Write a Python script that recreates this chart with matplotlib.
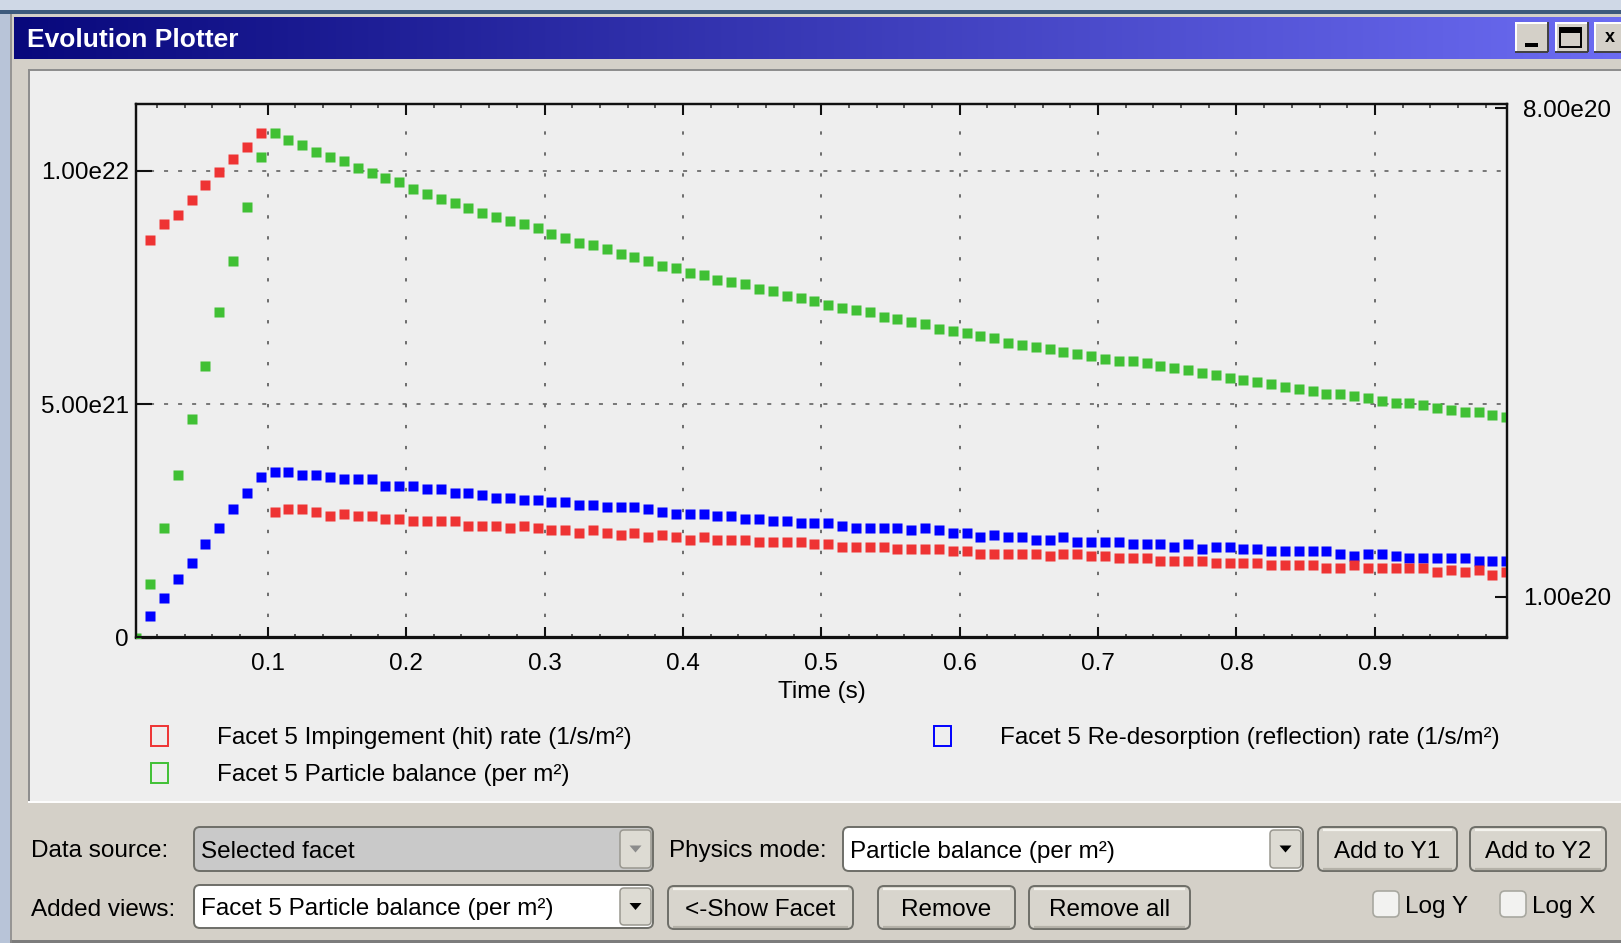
import numpy as np
import matplotlib
matplotlib.use("Agg")
import matplotlib.pyplot as plt
from matplotlib.patches import Rectangle, FancyBboxPatch, Polygon
from matplotlib.ticker import FixedLocator, MultipleLocator, FuncFormatter

plt.rcParams['font.family'] = ['Liberation Sans', 'DejaVu Sans']
plt.rcParams['lines.scale_dashes'] = False

W, H, DPI = 1621, 943, 100
FS = 17.5

# ---------------------------------------------------------------- data
# sampling times (s): one sample every 10 ms, centred in each interval
time_s = np.linspace(0.005, 0.995, 100)

# values in units of 1e21
hit_rate = np.array([
    np.nan,
    8.52, 8.86, 9.06, 9.37, 9.71, 9.97, 10.26, 10.51, 10.81,
    2.70, 2.75, 2.75, 2.70, 2.60, 2.65, 2.60, 2.60, 2.55, 2.55,
    2.50, 2.50, 2.50, 2.50, 2.40, 2.40, 2.40, 2.35, 2.40, 2.35,
    2.30, 2.30, 2.25, 2.30,
    2.25, 2.20, 2.25, 2.15, 2.20, 2.15, 2.10, 2.15, 2.10, 2.10,
    2.10, 2.05, 2.05, 2.05, 2.05,
    2.00, 2.00, 1.95, 1.95, 1.95, 1.95, 1.90, 1.90, 1.90, 1.90,
    1.85, 1.85, 1.80, 1.80, 1.80, 1.80, 1.80, 1.75, 1.80, 1.80,
    1.75, 1.75,
    1.70, 1.70, 1.70, 1.65, 1.65, 1.65, 1.65, 1.60, 1.60, 1.60,
    1.60, 1.55, 1.55, 1.55, 1.55, 1.50, 1.50, 1.55, 1.50, 1.50,
    1.50, 1.50, 1.50, 1.40, 1.45, 1.40, 1.45, 1.35, 1.40,
]) * 1e21

reflection_rate = np.array([
    np.nan,
    0.46, 0.85, 1.25, 1.60, 2.00, 2.35, 2.75, 3.09, 3.44,
    3.55, 3.55, 3.49, 3.49, 3.44, 3.39, 3.39, 3.39, 3.24, 3.24,
    3.24, 3.19, 3.19, 3.09, 3.09,
    3.05, 3.00, 3.00, 2.95, 2.95, 2.90, 2.90, 2.85, 2.85, 2.80,
    2.80, 2.80, 2.75, 2.70, 2.65, 2.65, 2.65, 2.60, 2.60, 2.55,
    2.55, 2.50, 2.50, 2.45,
    2.45, 2.45, 2.40, 2.35, 2.35, 2.35, 2.35, 2.30, 2.35, 2.30,
    2.25, 2.25, 2.15, 2.20, 2.15, 2.15, 2.10, 2.10, 2.15, 2.05,
    2.05, 2.05,
    2.05, 2.00, 2.00, 2.00, 1.95, 2.00, 1.90, 1.95, 1.95, 1.90,
    1.90, 1.85, 1.85, 1.85, 1.85, 1.85, 1.80, 1.75, 1.80, 1.80,
    1.75, 1.70, 1.70, 1.70, 1.70, 1.70, 1.65, 1.65, 1.65,
]) * 1e21

particle_balance = np.array([
    0.00, 1.15, 2.35, 3.49, 4.68, 5.83, 6.98, 8.07, 9.22, 10.31,
    10.81, 10.66, 10.56, 10.41, 10.31, 10.21, 10.06, 9.96, 9.86, 9.76,
    9.61, 9.51, 9.41, 9.31, 9.21, 9.11, 9.01,
    8.92, 8.87, 8.78, 8.66, 8.57, 8.46, 8.41, 8.32, 8.22, 8.16,
    8.07, 7.96, 7.92, 7.82, 7.77, 7.67, 7.62, 7.57, 7.47, 7.42,
    7.33, 7.27,
    7.22, 7.13, 7.07, 7.02, 6.98, 6.87, 6.82, 6.77, 6.72, 6.62,
    6.58, 6.52, 6.47, 6.42, 6.32, 6.28, 6.23, 6.18, 6.13, 6.08,
    6.03, 5.98,
    5.93, 5.93, 5.88, 5.83, 5.78, 5.73, 5.68, 5.63, 5.57, 5.53,
    5.48, 5.43, 5.38, 5.33, 5.28, 5.23, 5.23, 5.18, 5.13, 5.08,
    5.03, 5.03, 4.98, 4.93, 4.88, 4.83, 4.83, 4.78, 4.73,
]) * 1e21

series_labels = [
    "Facet 5 Impingement (hit) rate (1/s/m\u00b2)",
    "Facet 5 Particle balance (per m\u00b2)",
    "Facet 5 Re-desorption (reflection) rate (1/s/m\u00b2)",
]
series_colors = ['#ee3333', '#40c034', '#0000ff']

x_ticks = [0.1, 0.2, 0.3, 0.4, 0.5, 0.6, 0.7, 0.8, 0.9]
y1_ticks = [0.0, 5.0e21, 1.0e22]
y2_ticks = [1.0e20, 8.0e20]

# ---------------------------------------------------------------- window
fig = plt.figure(figsize=(W / DPI, H / DPI), dpi=DPI)
fig.patch.set_facecolor('#b8c4d8')
bg = fig.add_axes([0, 0, 1, 1])
bg.set_xlim(0, W)
bg.set_ylim(H, 0)
bg.axis('off')
bg.set_zorder(0)

PX = 0.72  # one pixel in points


def rect(x0, y0, x1, y1, fc, ec='none', lw=0, z=1):
    bg.add_patch(Rectangle((x0, y0), x1 - x0, y1 - y0, facecolor=fc,
                           edgecolor=ec, linewidth=lw, zorder=z))


def rbox(x0, y0, x1, y1, fc, ec, lw=1.4, r=6, z=2):
    bg.add_patch(FancyBboxPatch((x0, y0), x1 - x0, y1 - y0,
                                boxstyle=f"round,pad=0,rounding_size={r}",
                                facecolor=fc, edgecolor=ec, linewidth=lw,
                                zorder=z))


def hline(x0, x1, y, c, lw=1.0, z=3):
    bg.plot([x0, x1], [y, y], color=c, linewidth=lw, zorder=z,
            solid_capstyle='butt')


def vline(x, y0, y1, c, lw=1.0, z=3):
    bg.plot([x, x], [y0, y1], color=c, linewidth=lw, zorder=z,
            solid_capstyle='butt')


# desktop strip above the window
rect(0, 0, W, 10, '#cfd8e6')
rect(0, 10, W, 14, '#3d5a7c')
# window frame
rect(10, 14, W, H, '#d4d0c8')
vline(10.5, 14, H, '#8a8a8a', lw=1.2)
rect(10, 940, W, H, '#7c7c7c', z=2)

# title bar gradient
grad = np.linspace(0, 1, 512)
c0 = np.array([8, 8, 124]) / 255.0
c1 = np.array([108, 108, 242]) / 255.0
img = (c0[None, :] * (1 - grad[:, None]) + c1[None, :] * grad[:, None])[None, :, :]
bg.imshow(img, extent=(14, W, 59, 17), aspect='auto', zorder=2,
          interpolation='bilinear')
bg.text(27, 47, "Evolution Plotter", color='white', fontsize=19,
        fontweight='bold', va='baseline', ha='left', zorder=4)

# caption buttons
for bx0, bx1 in [(1515, 1548), (1555, 1588), (1594, 1640)]:
    rect(bx0, 22, bx1, 52, '#d4d0c8', z=3)
    hline(bx0, bx1, 22.5, '#ffffff', lw=1.4, z=4)
    vline(bx0 + 0.5, 22, 52, '#ffffff', lw=1.4, z=4)
    hline(bx0, bx1, 51.5, '#404040', lw=1.4, z=4)
    vline(bx1 - 0.5, 22, 52, '#404040', lw=1.4, z=4)
rect(1525, 43, 1538, 47, '#000000', z=5)
rect(1560, 28, 1581, 47, 'none', ec='#000000', lw=1.4, z=5)
rect(1560, 28, 1581, 33, '#000000', z=5)
bg.text(1610, 38, "x", fontsize=13, fontweight='bold', ha='center',
        va='center', zorder=5)

# plot panel (sunken)
rect(28, 69, W, 801, '#eeeeee', z=1)
hline(28, W, 69.5, '#8c8c8c', lw=1.4)
vline(28.5, 69, 801, '#8c8c8c', lw=1.4)
hline(28, W, 801.5, '#ffffff', lw=1.4)

# ---------------------------------------------------------------- chart
AX_L, AX_R, AX_T, AX_B = 135.7, 1507.3, 104.0, 637.5
ax = fig.add_axes([AX_L / W, 1 - AX_B / H, (AX_R - AX_L) / W, (AX_B - AX_T) / H])
ax.set_zorder(5)
ax.set_facecolor('#eeeeee')

ms = 10 * PX
ax.plot(time_s, particle_balance, 's', color=series_colors[1], ms=ms,
        mec='none', zorder=3)
ax.plot(time_s, reflection_rate, 's', color=series_colors[2], ms=ms,
        mec='none', zorder=3)
ax.plot(time_s, hit_rate, 's', color=series_colors[0], ms=ms,
        mec='none', zorder=3)

ax.set_xlim(0.0046, 0.9957)
ax.set_ylim(0, 1.1436e22)
ax.xaxis.set_major_locator(FixedLocator(x_ticks))
ax.xaxis.set_minor_locator(MultipleLocator(0.02))
ax.xaxis.set_major_formatter(FuncFormatter(lambda v, p: f"{v:.1f}"))
ax.yaxis.set_major_locator(FixedLocator(y1_ticks))
ax.yaxis.set_major_formatter(
    FuncFormatter(lambda v, p: "0" if v == 0 else f"{v:.2e}".replace("e+", "e")))

ax.tick_params(axis='x', which='major', direction='in', length=8, width=1.5,
               top=True, bottom=True, pad=11, labelsize=FS, color='#101010')
ax.tick_params(axis='x', which='minor', direction='in', length=3.2, width=1.1,
               top=True, bottom=True, color='#303030')
ax.tick_params(axis='y', which='major', direction='in', length=11.5, width=1.5,
               pad=4.8, labelsize=FS, color='#101010')
for s in ax.spines.values():
    s.set_linewidth(1.6)
    s.set_color('#101010')

ax.xaxis.grid(True, color='#626262', linewidth=1.3, linestyle=(0, (2.4, 12.7)))
ax.yaxis.grid(True, color='#626262', linewidth=1.2, linestyle=(0, (2.9, 7.2)))
ax.set_axisbelow(True)

ax.set_xlabel("Time (s)", fontsize=FS, va='baseline')
ax.xaxis.set_label_coords(0.5, -(698 - AX_B) / (AX_B - AX_T))

ax2 = ax.twinx()
ax2.set_ylim(4.2024e19, 8.0573e20)
ax2.yaxis.set_major_locator(FixedLocator(y2_ticks))
ax2.yaxis.set_major_formatter(FuncFormatter(lambda v, p: f"{v:.2e}".replace("e+", "e")))
ax2.tick_params(axis='y', direction='in', length=8.6, width=1.5, pad=11.3,
                labelsize=FS, color='#101010')
for s in ax2.spines.values():
    s.set_linewidth(1.6)
    s.set_color('#101010')

# ---------------------------------------------------------------- legend
legend_pos = [(159, 744), (159, 781), (942, 744)]
for (lx, ly), lab, col in zip(legend_pos, series_labels, series_colors):
    bg.add_patch(Rectangle((lx - 8.5, ly - 18), 17, 20, facecolor='none',
                           edgecolor=col, linewidth=1.4, zorder=3))
    bg.text(lx + 58, ly, lab, fontsize=FS, ha='left', va='baseline', zorder=3)

# ---------------------------------------------------------------- controls
BORDER = '#6e6e68'


def combo(x0, y0, x1, y1, text, face, enabled=True):
    rbox(x0, y0, x1, y1, face, BORDER, lw=1.4, r=6)
    bx0, bx1 = x1 - 33, x1 - 2
    rbox(bx0, y0 + 3, bx1, y1 - 3, '#dddbd3', '#9a9890', lw=1.1, r=4, z=3)
    cx, cy = (bx0 + bx1) / 2, (y0 + y1) / 2
    tri = Polygon([[cx - 6, cy - 3.5], [cx + 6, cy - 3.5], [cx, cy + 3.5]],
                  closed=True, facecolor='#000000' if enabled else '#8c8c8c',
                  edgecolor='none', zorder=4)
    bg.add_patch(tri)
    bg.text(x0 + 7, (y0 + y1) / 2 + 9, text, fontsize=FS, ha='left',
            va='baseline', zorder=4)


def button(x0, y0, x1, y1, text):
    rbox(x0, y0, x1, y1, '#d8d5cd', BORDER, lw=1.4, r=6)
    hline(x0 + 5, x1 - 5, y0 + 2.5, '#f4f3ee', lw=1.6)
    hline(x0 + 5, x1 - 5, y1 - 2.5, '#b4b1a8', lw=1.6)
    bg.text((x0 + x1) / 2, (y0 + y1) / 2 + 9, text, fontsize=FS,
            ha='center', va='baseline', zorder=4)


def checkbox(x0, y0, x1, y1, text):
    rbox(x0, y0, x1, y1, '#f2f2f0', '#a8a8a0', lw=1.2, r=5)
    bg.text(x1 + 6, (y0 + y1) / 2 + 9, text, fontsize=FS, ha='left',
            va='baseline', zorder=4)


bg.text(31, 857, "Data source:", fontsize=FS, ha='left', va='baseline', zorder=4)
combo(194, 827, 653, 871, "Selected facet", '#c9c9c9', enabled=False)
bg.text(669, 857, "Physics mode:", fontsize=FS, ha='left', va='baseline', zorder=4)
combo(843, 827, 1303, 871, "Particle balance (per m\u00b2)", '#ffffff')
button(1318, 827, 1457, 871, "Add to Y1")
button(1470, 827, 1606, 871, "Add to Y2")

bg.text(31, 916, "Added views:", fontsize=FS, ha='left', va='baseline', zorder=4)
combo(194, 885, 653, 928, "Facet 5 Particle balance (per m\u00b2)", '#ffffff')
button(668, 886, 853, 929, "<-Show Facet")
button(878, 886, 1015, 929, "Remove")
button(1029, 886, 1190, 929, "Remove all")
checkbox(1373, 891, 1399, 917, "Log Y")
checkbox(1500, 891, 1526, 917, "Log X")

fig.savefig("out.png", dpi=DPI, facecolor=fig.get_facecolor())
